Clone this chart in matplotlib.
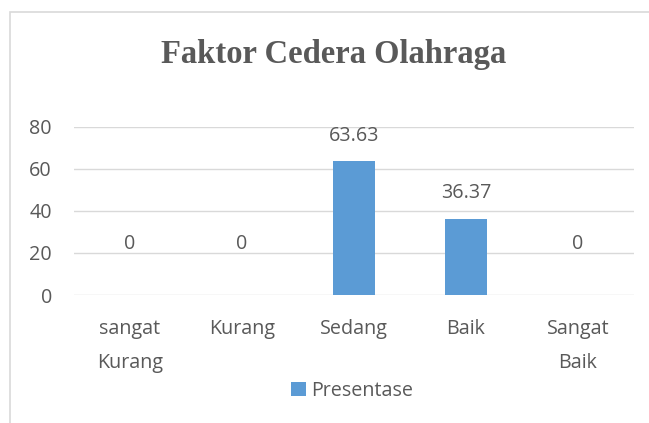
import matplotlib
matplotlib.use('Agg')
import matplotlib.pyplot as plt
from matplotlib.patches import Rectangle

# data
categories = ['sangat\nKurang', 'Kurang', 'Sedang', 'Baik', 'Sangat\nBaik']
values = [0, 0, 63.63, 36.37, 0]
labels = ['0', '0', '63.63', '36.37', '0']
yticks = [0, 20, 40, 60, 80]

txt = '#595959'
bar_color = '#5b9bd5'
grid_color = '#d9d9d9'

plt.rcParams['font.family'] = ['Open Sans', 'DejaVu Sans']
fs = 14.2

fig = plt.figure(figsize=(6.49, 4.23), dpi=100)
# chart border: only top and left edges are inside the picture
fig.patches.append(Rectangle((10/649, -0.05), 1.1, 1.05 - 12/423, transform=fig.transFigure,
                             fill=False, edgecolor=grid_color, linewidth=1.2))

ax = fig.add_axes([74/649, 1 - 295/423, (634 - 74)/649, (295 - 127)/423])
x = range(len(categories))
ax.bar(x, values, width=0.37, color=bar_color, label='Presentase', zorder=3)

for xi, v, lab in zip(x, values, labels):
    off = 37 if v == 0 else 18.5
    ax.annotate(lab, (xi, v), xytext=(0, off), textcoords='offset points',
                ha='center', va='center', fontsize=fs, color=txt)

ax.set_ylim(0, 80)
ax.set_xlim(-0.5, len(categories) - 0.5)
ax.set_yticks(yticks)
ax.set_xticks(list(x))
ax.set_xticklabels(categories, linespacing=1.95)
ax.tick_params(axis='both', length=0, labelsize=fs, labelcolor=txt)
ax.tick_params(axis='y', pad=16)
ax.tick_params(axis='x', pad=17)
ax.grid(axis='y', color=grid_color, linewidth=1, zorder=0)
for s in ax.spines.values():
    s.set_visible(False)

fig.text(334/649, 1 - 55/423, 'Faktor Cedera Olahraga', ha='center', va='center',
         fontsize=23.5, fontweight='bold', color=txt, family='Liberation Serif')

fig.legend(loc='center', bbox_to_anchor=(352/649, 1 - 391/423), frameon=False,
           fontsize=fs, labelcolor=txt, handlelength=0.75, handleheight=0.75,
           handletextpad=0.25)

plt.savefig('out.png', dpi=100)
